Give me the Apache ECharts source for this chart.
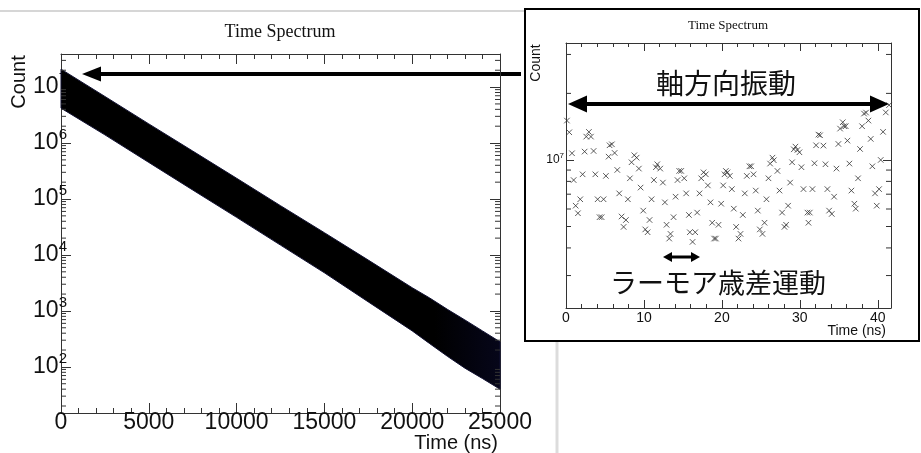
<!DOCTYPE html>
<html>
<head>
<meta charset="utf-8">
<title>Time Spectrum</title>
<script src="https://cdn.jsdelivr.net/npm/echarts@6/dist/echarts.min.js"></script>
<style>
  html, body { margin: 0; padding: 0; background: #fff; }
  #chart { width: 921px; height: 453px; }
</style>
</head>
<body>
<div id="chart"></div>
<script>
// main spectrum: envelope of the dense decay band (ns, counts)
var bandTime  = [0, 2500, 5000, 7500, 10000, 12500, 15000, 17500, 20000, 21000, 22000, 23000, 24000, 25000];
var bandUpper = [2.09e7, 6.8e6, 2.2e6, 7.2e5, 2.35e5, 7.6e4, 2.5e4, 8.1e3, 2.6e3, 1.7e3, 1.07e3, 690, 440, 280];
var bandLower = [4.2e6, 1.4e6, 4.5e5, 1.45e5, 4.7e4, 1.5e4, 4.8e3, 1.45e3, 440, 260, 155, 95, 62, 40];

// inset: first ~42 ns, counts in millions
var insetTime = [0.12, 0.42, 0.77, 0.98, 1.24, 1.53, 1.83, 2.13, 2.39, 2.60, 2.94, 3.20, 3.54, 3.76, 4.06, 4.31, 4.57, 4.82, 5.12, 5.47,
  5.59, 5.89, 6.24, 6.58, 6.83, 7.13, 7.39, 7.69, 7.94, 8.20, 8.41, 8.76, 9.06, 9.35, 9.57, 9.91, 10.17, 10.47, 10.72, 10.98,
  11.28, 11.53, 11.71, 12.09, 12.43, 12.69, 12.90, 13.24, 13.41, 13.80, 14.06, 14.31, 14.53, 14.78, 15.17, 15.42, 15.77, 15.89, 16.24, 16.58,
  16.83, 17.13, 17.35, 17.65, 17.94, 18.20, 18.54, 18.76, 19.01, 19.23, 19.57, 19.91, 20.17, 20.34, 20.51, 20.72, 21.02, 21.28, 21.53, 21.83,
  22.13, 22.39, 22.69, 22.94, 23.20, 23.54, 23.76, 24.06, 24.35, 24.61, 24.87, 25.21, 25.47, 25.72, 25.98, 26.19, 26.49, 26.66, 27.13, 27.39,
  27.73, 28.03, 28.24, 28.50, 28.76, 29.01, 29.23, 29.44, 29.70, 29.95, 30.21, 30.47, 30.98, 31.11, 31.28, 31.62, 31.88, 32.09, 32.39, 32.60,
  33.03, 33.29, 33.54, 33.76, 34.10, 34.40, 34.70, 34.95, 35.17, 35.51, 35.68, 35.89, 36.11, 36.36, 36.62, 37.00, 37.18, 37.47, 37.73, 37.99,
  38.24, 38.50, 38.80, 39.10, 39.31, 39.65, 39.87, 40.17, 40.38, 40.68, 41.03, 41.45];
var insetCountM = [15.07, 13.34, 10.72, 8.11, 6.21, 5.74, 6.64, 8.61, 10.91, 12.75, 13.39, 12.75, 10.98, 8.61, 6.64, 5.51, 5.51, 6.64, 8.47, 10.35,
  11.65, 11.77, 10.76, 9.01, 7.06, 5.55, 4.98, 5.35, 6.64, 8.26, 9.76, 10.50, 10.24, 9.14, 7.50, 5.90, 4.85, 4.71, 5.35, 6.64,
  8.11, 9.27, 9.56, 9.14, 7.90, 6.43, 5.09, 4.41, 4.63, 5.51, 6.82, 8.11, 8.92, 8.92, 8.26, 7.06, 5.64, 4.71, 4.26, 4.71,
  5.78, 7.06, 8.26, 8.79, 8.61, 7.67, 6.43, 5.20, 4.41, 4.41, 5.09, 6.34, 7.67, 8.61, 8.92, 8.79, 8.47, 7.38, 6.02, 4.98,
  4.41, 4.63, 5.64, 7.06, 8.47, 9.36, 9.36, 8.61, 7.27, 5.90, 4.85, 4.63, 5.20, 6.64, 8.26, 9.63, 10.24, 9.97, 8.92, 7.27,
  5.78, 4.98, 5.09, 6.21, 7.90, 9.76, 11.17, 11.49, 11.10, 10.83, 9.27, 7.38, 5.78, 5.20, 5.78, 7.38, 9.66, 11.65, 13.02, 12.93,
  11.61, 9.56, 7.38, 5.90, 5.70, 6.82, 9.14, 11.81, 13.86, 14.81, 14.21, 14.21, 12.23, 9.63, 7.27, 6.34, 6.02, 8.26, 11.21, 14.21,
  16.21, 16.38, 15.07, 12.45, 9.36, 7.06, 6.21, 7.38, 10.0, 13.4, 16.4, 17.7];

var mainMinorMults = [2, 3, 4, 5, 6, 7, 8, 9];
var mainDecades = [1, 2, 3, 4, 5, 6, 7];
var insetMinorVals = [3e6, 4e6, 5e6, 6e6, 7e6, 8e6, 9e6, 2e7, 3e7];

var SANS = '"Liberation Sans", Arial, sans-serif';
var SERIF = '"Liberation Serif", "Times New Roman", serif';
var CJK = '"Noto Sans CJK JP", sans-serif';

var myChart = echarts.init(document.getElementById('chart'), null, { renderer: 'canvas' });

function powLabel(v) {
    var l = Math.log10(v);
    var e = Math.round(l);
    if (Math.abs(l - e) > 1e-6) return '';
    return '{b|10}{s|' + e + '}';
}

function xAxisOf(grid, pos, min, max, interval, fontSize, tickLen, showLabel, margin) {
    return {
        gridIndex: grid, type: 'value', position: pos, min: min, max: max, interval: interval,
        axisLine: { show: true, onZero: false, lineStyle: { color: '#333', width: 1 } },
        axisTick: { inside: true, length: tickLen, lineStyle: { color: '#333' } },
        minorTick: { show: true, splitNumber: 5, length: tickLen / 2, lineStyle: { color: '#333' } },
        splitLine: { show: false },
        axisLabel: {
            show: showLabel, fontFamily: SANS, fontSize: fontSize, color: '#111', margin: margin,
            showMaxLabel: max % interval === 0,
            formatter: function (v) { return String(v); }
        }
    };
}

function yAxisOf(grid, pos, min, max, tickLen, showLabel, big, small, raise, margin) {
    return {
        gridIndex: grid, type: 'log', logBase: 10, position: pos, min: min, max: max,
        axisLine: { show: true, onZero: false, lineStyle: { color: '#333', width: 1 } },
        axisTick: { inside: true, length: tickLen, lineStyle: { color: '#333' } },
        splitLine: { show: false },
        axisLabel: {
            show: showLabel, margin: margin, showMinLabel: false, showMaxLabel: false,
            formatter: powLabel,
            rich: {
                b: { fontFamily: SANS, fontSize: big, color: '#111' },
                s: { fontFamily: SANS, fontSize: small, color: '#111', padding: [0, 0, raise, 0] }
            }
        }
    };
}

// log minor ticks on both sides of a grid
function minorTickSeries(axisIdx, values, xmin, xmax, len) {
    return {
        type: 'custom', xAxisIndex: axisIdx, yAxisIndex: axisIdx, silent: true, z: 5,
        data: values.map(function (v) { return [xmin, v]; }),
        renderItem: function (params, api) {
            var v = api.value(1);
            var a = api.coord([xmin, v]);
            var b = api.coord([xmax, v]);
            return {
                type: 'group',
                children: [
                    { type: 'line', shape: { x1: a[0], y1: a[1], x2: a[0] + len, y2: a[1] }, style: { stroke: '#333', lineWidth: 1 } },
                    { type: 'line', shape: { x1: b[0], y1: b[1], x2: b[0] - len, y2: b[1] }, style: { stroke: '#333', lineWidth: 1 } }
                ]
            };
        }
    };
}

var mainMin = 15, mainMax = 3.9e7;
var mainMinor = [];
mainDecades.forEach(function (d) {
    mainMinorMults.forEach(function (m) {
        var v = m * Math.pow(10, d);
        if (v > mainMin && v < mainMax) mainMinor.push(v);
    });
});

var insetData = insetTime.map(function (t, i) { return [t, insetCountM[i] * 1e6]; });

function arrowHead(tipX, y, dir, len, half) {
    return {
        type: 'polygon',
        shape: { points: [[tipX, y], [tipX + dir * len, y - half], [tipX + dir * len, y + half]] },
        style: { fill: '#000' }
    };
}

function label(x, y, text, font, align, rot) {
    return {
        type: 'text', x: x, y: y, rotation: rot || 0,
        style: { text: text, font: font, fill: '#111', align: align, verticalAlign: 'middle', textAlign: align, textVerticalAlign: 'middle' }
    };
}

var option = {
    animation: false,
    backgroundColor: '#fff',
    grid: [
        { left: 61, top: 54, width: 439, height: 359 },
        { left: 566, top: 43, width: 325, height: 265 }
    ],
    xAxis: [
        xAxisOf(0, 'bottom', 0, 25000, 5000, 23, 10, true, -2),
        xAxisOf(0, 'top', 0, 25000, 5000, 23, 10, false, 0),
        xAxisOf(1, 'bottom', 0, 41.7, 10, 14, 8, true, 3),
        xAxisOf(1, 'top', 0, 41.7, 10, 14, 8, false, 0)
    ],
    yAxis: [
        yAxisOf(0, 'left', mainMin, mainMax, 10, true, 23, 15, 16, -6),
        yAxisOf(0, 'right', mainMin, mainMax, 10, false, 23, 15, 16, 0),
        yAxisOf(1, 'left', 2.14e6, 3.38e7, 8, true, 12, 8, 8, 2),
        yAxisOf(1, 'right', 2.14e6, 3.38e7, 8, false, 12, 8, 8, 0)
    ],
    series: [
        {
            // dense oscillating decay drawn as its envelope band
            type: 'custom', xAxisIndex: 0, yAxisIndex: 0, silent: true, z: 2,
            data: [[0, bandUpper[0]]],
            renderItem: function (params, api) {
                var pts = [];
                for (var i = 0; i < bandTime.length; i++) pts.push(api.coord([bandTime[i], bandUpper[i]]));
                for (var j = bandTime.length - 1; j >= 0; j--) pts.push(api.coord([bandTime[j], bandLower[j]]));
                return {
                    type: 'polygon',
                    shape: { points: pts },
                    style: {
                        fill: new echarts.graphic.LinearGradient(0, 0, 1, 0, [
                            { offset: 0, color: '#000' },
                            { offset: 0.85, color: '#000' },
                            { offset: 1, color: '#06061a' }
                        ]),
                        stroke: '#111132', lineWidth: 1
                    }
                };
            }
        },
        minorTickSeries(0, mainMinor, 0, 25000, 5),
        {
            type: 'scatter', xAxisIndex: 2, yAxisIndex: 2, silent: true, z: 3,
            symbol: 'path://M0 0L10 10M10 0L0 10', symbolSize: 5.5,
            itemStyle: { color: 'rgba(0,0,0,0)', borderColor: '#333', borderWidth: 1 },
            data: insetData
        },
        minorTickSeries(2, insetMinorVals, 0, 41.7, 5)
    ],
    graphic: [
        { type: 'line', shape: { x1: 0, y1: 11, x2: 525, y2: 11 }, style: { stroke: '#d6d6d6', lineWidth: 2 } },
        { type: 'line', shape: { x1: 557, y1: 342, x2: 557, y2: 453 }, style: { stroke: '#dcdcdc', lineWidth: 3 } },
        { type: 'rect', shape: { x: 525, y: 9, width: 394, height: 332 }, style: { fill: 'none', stroke: '#000', lineWidth: 2 } },

        label(280, 32, 'Time Spectrum', '18px ' + SERIF, 'center'),
        label(728, 26, 'Time Spectrum', '13px ' + SERIF, 'center'),
        label(19, 82, 'Count', '20px ' + SANS, 'center', Math.PI / 2),
        label(536, 63, 'Count', '14px ' + SANS, 'center', Math.PI / 2),
        label(498, 443, 'Time (ns)', '20px ' + SANS, 'right'),
        label(886, 331, 'Time (ns)', '14px ' + SANS, 'right'),

        // arrow from inset to main plot
        { type: 'line', shape: { x1: 98, y1: 74, x2: 521, y2: 74 }, style: { stroke: '#000', lineWidth: 4 } },
        arrowHead(82, 74, 1, 19, 7.5),

        // axial oscillation arrow
        { type: 'line', shape: { x1: 584, y1: 104, x2: 872, y2: 104 }, style: { stroke: '#000', lineWidth: 4 } },
        arrowHead(568, 104, 1, 19, 8.5),
        arrowHead(889, 104, -1, 19, 8.5),
        label(726, 83, '軸方向振動', '28px ' + CJK, 'center'),

        // Larmor precession arrow
        { type: 'line', shape: { x1: 670, y1: 257, x2: 693, y2: 257 }, style: { stroke: '#000', lineWidth: 3 } },
        arrowHead(663, 257, 1, 9, 5),
        arrowHead(700, 257, -1, 9, 5),
        label(718, 283, 'ラーモア歳差運動', '27px ' + CJK, 'center')
    ]
};

myChart.setOption(option);
</script>
</body>
</html>
